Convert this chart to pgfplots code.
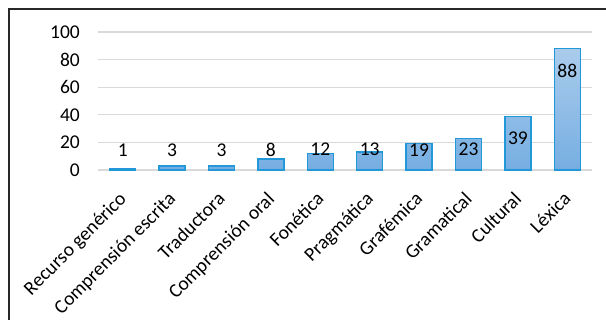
\documentclass[border=0pt]{standalone}
\usepackage{pgfplots}
\pgfplotsset{compat=1.18}
\usepackage{pgfplotstable}
\usepackage{fontspec}
\setmainfont{Carlito}
\definecolor{bartop}{RGB}{170,204,236}
\definecolor{barbot}{RGB}{118,174,226}
\definecolor{barline}{RGB}{35,152,216}
\definecolor{gridc}{RGB}{217,217,217}
\definecolor{framec}{RGB}{40,40,40}
\newcommand{\lbl}{\fontsize{19.5}{23}\selectfont}

\pgfplotstableread{
x y
0 1
1 3
2 3
3 8
4 12
5 13
6 19
7 23
8 39
9 88
}\data

\pgfplotstableread{
x y lab
0 14.5 1
1 14.5 3
2 14.5 3
3 14.5 8
4 14.8 12
5 14.8 13
6 14.5 19
7 14.8 23
8 23.2 39
9 71.7 88
}\labs

\begin{document}
\begin{tikzpicture}[x=1pt,y=1pt]
\useasboundingbox (0,0) rectangle (606,320);
\fill[white] (0,0) rectangle (606,320);
\draw[line width=1.6pt, framec] (9,-5) -- (9,311) -- (611,311);
\begin{axis}[
  at={(98pt,150pt)}, anchor=south west,
  scale only axis, width=494pt, height=138pt,
  xmin=-0.5, xmax=9.5, ymin=0, ymax=100,
  ytick={0,20,...,100},
  yticklabels={0,20,40,60,80,100},
  xtick={0,...,9},
  xticklabels={Recurso genérico, Comprensión escrita, Traductora, Comprensión oral, Fonética, Pragmática, Grafémica, Gramatical, Cultural, Léxica},
  axis line style={draw=none},
  major tick length=0pt,
  ymajorgrids,
  grid style={gridc, line width=1.2pt},
  yticklabel style={font=\lbl, text=black, inner sep=0pt, anchor=east, xshift=-18pt},
  xticklabel style={font=\lbl, text=black, xshift=-5pt, yshift=-19pt, rotate=45, anchor=north east, inner sep=1pt},
  bar width=26pt,
  clip=false,
]
\addplot[ybar, bar shift=0pt, top color=bartop, bottom color=barbot, draw=barline, line width=1.3pt] table[x=x,y=y] {\data};
\addplot[draw=none, mark=none, nodes near coords, point meta=explicit symbolic,
  nodes near coords align={center},
  every node near coord/.append style={anchor=center, font=\lbl, text=black, inner sep=0pt}]
  table[x=x,y=y,meta=lab] {\labs};
\end{axis}
\end{tikzpicture}
\end{document}
